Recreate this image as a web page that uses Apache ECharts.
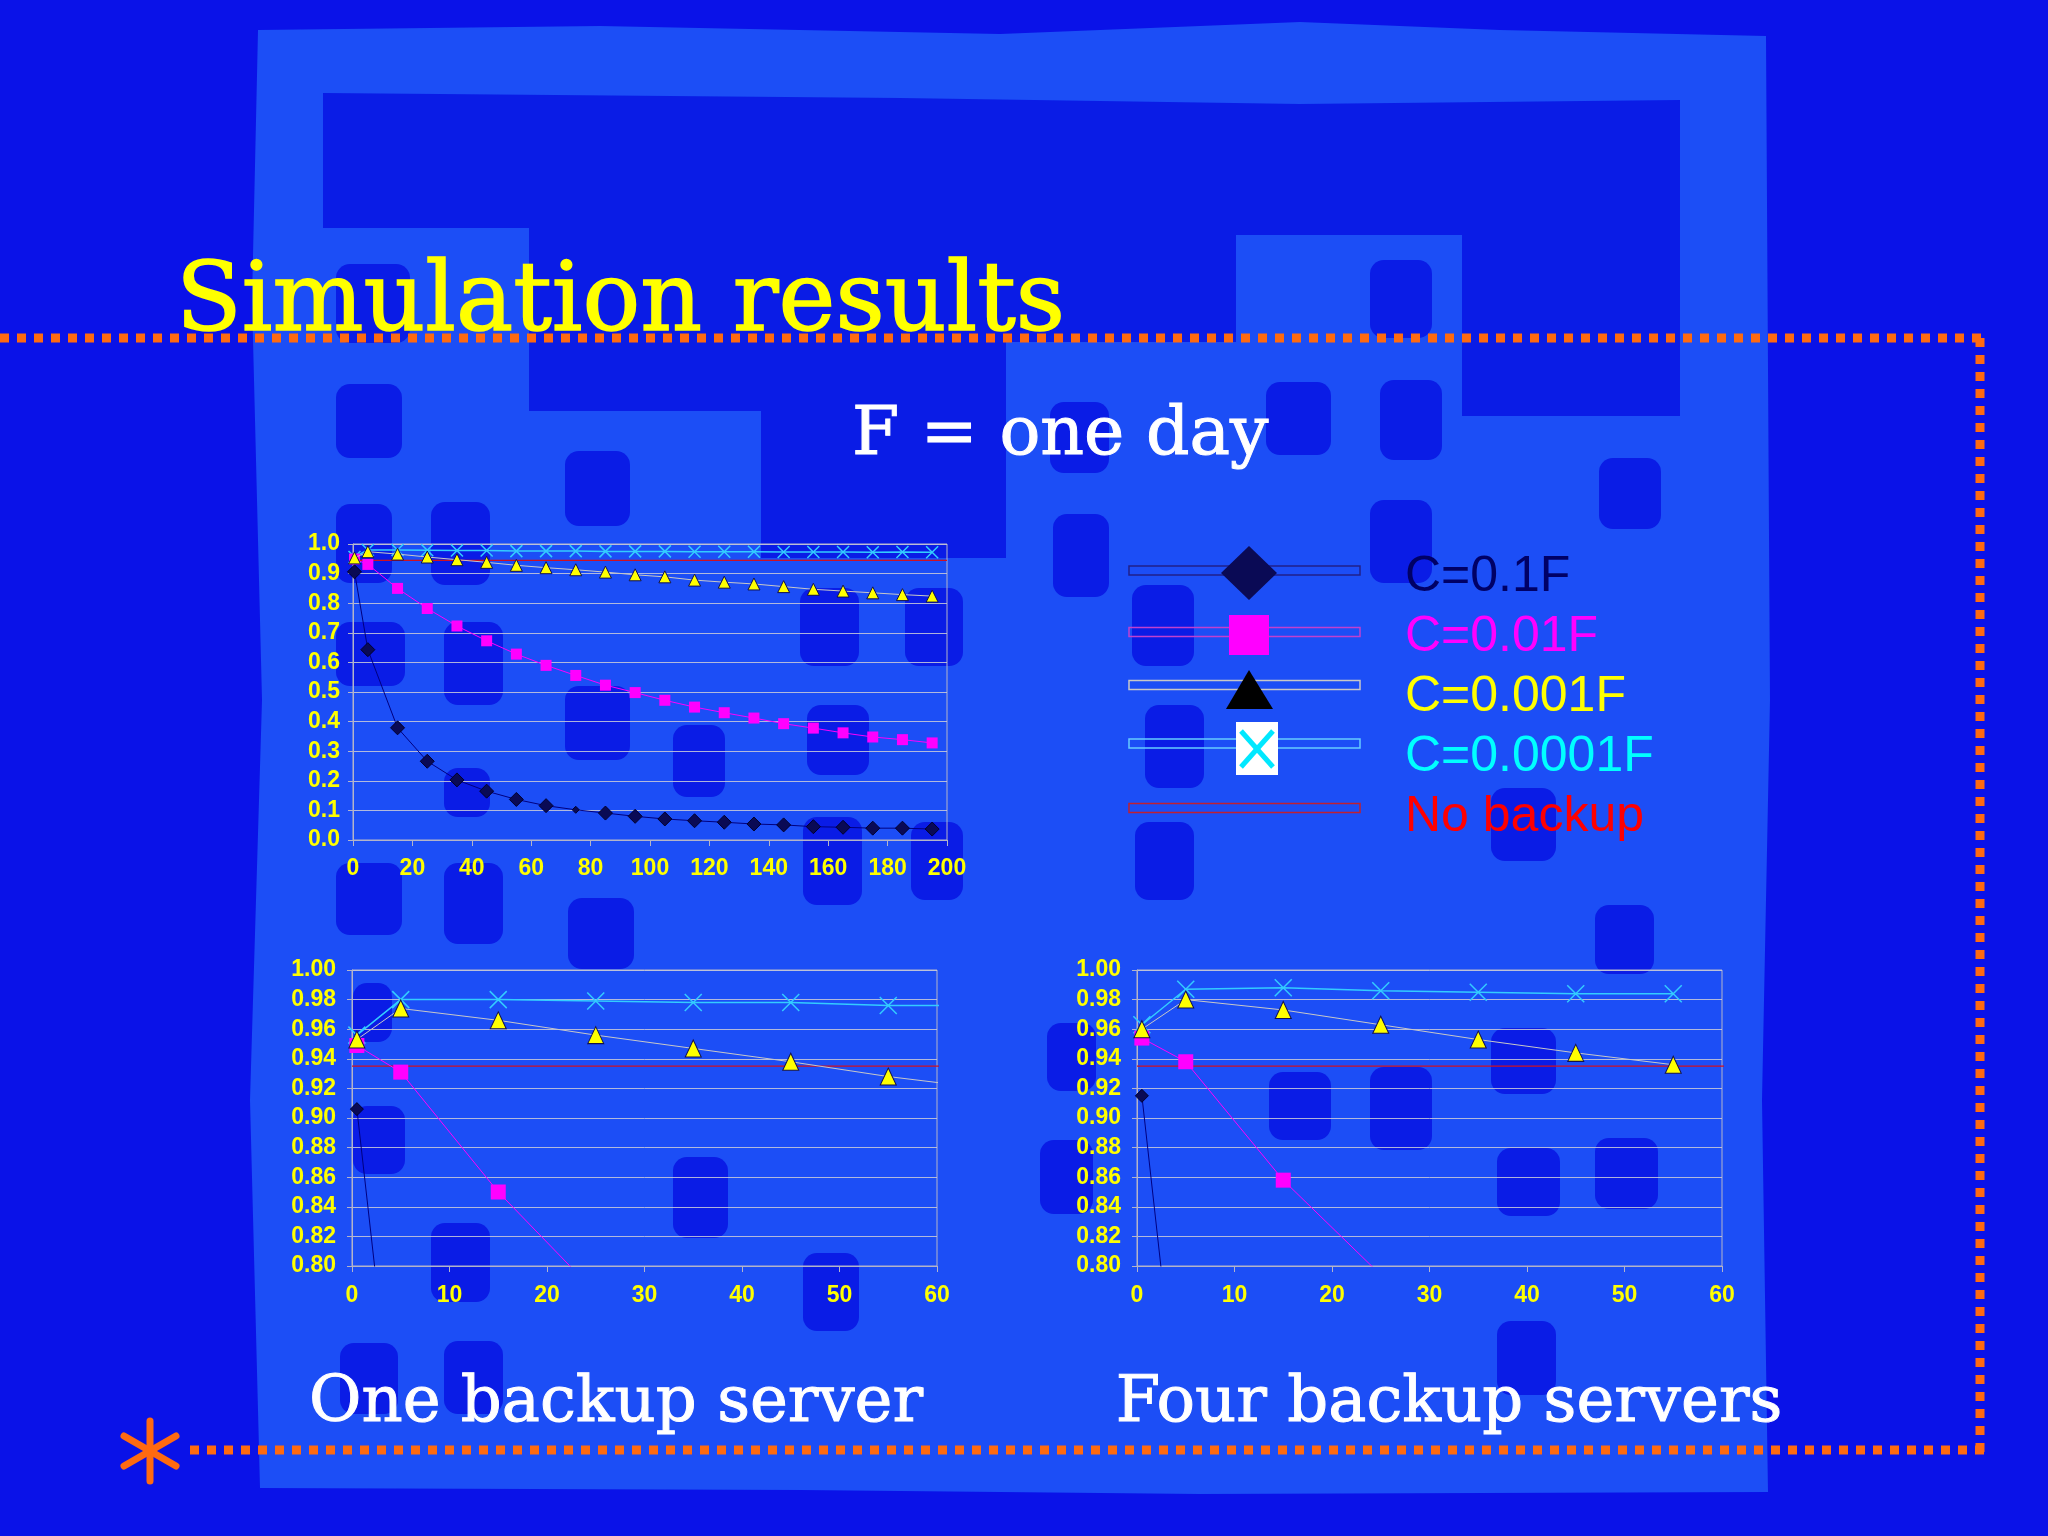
<!DOCTYPE html>
<html><head><meta charset="utf-8">
<script src="https://cdn.jsdelivr.net/npm/echarts@6/dist/echarts.min.js"></script>
<style>html,body{margin:0;padding:0;background:#0a12e8}#c{width:2048px;height:1536px}</style>
</head><body><div id="c"></div><script>
// ---------------- DATA ----------------
const seriesNames = ['C=0.1F', 'C=0.01F', 'C=0.001F', 'C=0.0001F', 'No backup'];
// One backup server (top chart and bottom-left chart)
const oneX      = [0.5, 5, 15, 25, 35, 45, 55, 65, 75, 85, 95, 105, 115, 125, 135, 145, 155, 165, 175, 185, 195];
const oneC1     = [0.906, 0.643, 0.379, 0.266, 0.203, 0.165, 0.137, 0.116, 0.102, 0.091, 0.080, 0.071, 0.065, 0.060, 0.054, 0.051, 0.045, 0.043, 0.040, 0.040, 0.037];
const oneC01    = [0.949, 0.931, 0.850, 0.782, 0.723, 0.673, 0.628, 0.590, 0.556, 0.523, 0.498, 0.472, 0.449, 0.430, 0.412, 0.393, 0.378, 0.362, 0.348, 0.339, 0.328];
const oneC001   = [0.953, 0.974, 0.966, 0.956, 0.947, 0.938, 0.928, 0.920, 0.913, 0.905, 0.896, 0.889, 0.878, 0.871, 0.865, 0.856, 0.847, 0.841, 0.835, 0.829, 0.824];
const oneC0001  = [0.956, 0.980, 0.980, 0.979, 0.978, 0.978, 0.976, 0.976, 0.976, 0.975, 0.975, 0.975, 0.974, 0.974, 0.974, 0.973, 0.973, 0.973, 0.972, 0.973, 0.972];
// Four backup servers (bottom-right chart)
const fourX     = [0.5, 5, 15, 25, 35, 45, 55];
const fourC1    = [0.915, 0.649];
const fourC01   = [0.954, 0.938, 0.858, 0.794];
const fourC001  = [0.960, 0.980, 0.973, 0.963, 0.953, 0.944, 0.936];
const fourC0001 = [0.963, 0.987, 0.988, 0.986, 0.985, 0.984, 0.984];
// No backup reference lines
const noBackupX      = [0, 200];
const noBackupTop    = [0.945, 0.945];
const noBackupBottom = [0.935, 0.935];
// Axis ranges / tick steps
const topXRange = [0, 200, 20];
const topYRange = [0, 1, 0.1];
const botXRange = [0, 60, 10];
const botYRange = [0.8, 1.0, 0.02];

// ---------------- STYLE ----------------
const legendColors = ['#000066', '#ff00ff', '#ffff00', '#00ffff', '#ff0000'];
const gridLineColor = 'rgba(205,205,215,0.85)';
const axisColor = '#b4b4c8';
const labelFont = {color: '#ffff00', fontWeight: 'bold', fontSize: 23, fontFamily: 'Liberation Sans, Arial, sans-serif'};
const crossPath = 'path://M0,0L10,10M10,0L0,10';

function pairs(xs, ys) { return ys.map((y, i) => [xs[i], y]); }

function mkSeries(name, gi, xs, ys, big) {
  const s = {type: 'line', name, xAxisIndex: gi, yAxisIndex: gi, clip: true, animation: false,
             data: pairs(xs, ys), showSymbol: true, symbolKeepAspect: false};
  if (name === 'C=0.1F') {
    s.symbol = 'diamond'; s.symbolSize = big ? 13 : 14; s.z = 4;
    s.itemStyle = {color: '#0a0a55', borderColor: '#000030', borderWidth: 1};
    s.lineStyle = {color: '#000080', width: 1};
    if (!big) s.data[8] = {value: s.data[8], symbolSize: 7};
  } else if (name === 'C=0.01F') {
    s.symbol = 'rect'; s.symbolSize = big ? 15 : 11; s.z = 5;
    s.itemStyle = {color: '#ff00ff', borderWidth: 0};
    s.lineStyle = {color: '#ff00ff', width: 1};
  } else if (name === 'C=0.001F') {
    s.symbol = 'triangle'; s.symbolSize = big ? [16, 17] : [12, 12]; s.z = 6;
    s.itemStyle = {color: '#ffff00', borderColor: '#101050', borderWidth: 1};
    s.lineStyle = {color: '#c8c8c8', width: 1};
  } else if (name === 'C=0.0001F') {
    s.symbol = crossPath; s.symbolSize = big ? 17 : 12; s.z = 3;
    s.itemStyle = {color: '#33ccff', borderColor: '#33ccff', borderWidth: 1.5};
    s.lineStyle = {color: '#33ccff', width: 1.5};
  } else {
    s.symbol = 'none'; s.showSymbol = false; s.z = 2;
    s.lineStyle = {color: '#d01020', width: 1.2};
    s.itemStyle = {color: '#ff0000'};
  }
  return s;
}

function mkX(gi, r, margin) {
  return {type: 'value', gridIndex: gi, min: r[0], max: r[1], interval: r[2],
    axisLine: {show: true, onZero: false, lineStyle: {color: axisColor, width: 1}},
    axisTick: {show: true, length: 6, lineStyle: {color: axisColor}},
    splitLine: {show: false},
    axisLabel: Object.assign({margin: margin}, labelFont)};
}
function mkY(gi, r, digits, margin) {
  return {type: 'value', gridIndex: gi, min: r[0], max: r[1], interval: r[2],
    axisLine: {show: true, onZero: false, lineStyle: {color: axisColor, width: 1}},
    axisTick: {show: true, length: 5, lineStyle: {color: axisColor}},
    splitLine: {show: true, lineStyle: {color: gridLineColor, width: 1}},
    axisLabel: Object.assign({margin: margin, formatter: v => v.toFixed(digits)}, labelFont)};
}

// ---------------- DECORATION (background shapes) ----------------
const bgOuter = '#0a12e8', bgLight = '#1c4ef6', bgDark = '#0a1ce6';
const darkPoly = [[323,93],[900,98],[1300,104],[1680,100],[1680,416],[1462,416],[1462,235],[1236,235],[1236,342],
                  [1006,342],[1006,558],[761,558],[761,411],[529,411],[529,228],[323,228]];
const lightPoly = [[258,30],[600,26],[1000,34],[1300,22],[1500,30],[1766,36],[1770,700],[1762,1100],[1768,1492],
                   [1200,1494],[800,1490],[260,1488],[250,1100],[262,700],[252,300]];
const blobs = [[336,384,402,458],[336,504,392,583],[431,502,490,585],[565,451,630,526],[336,622,405,686],
  [444,622,503,705],[565,686,630,760],[673,725,725,797],[800,588,859,666],[905,588,963,666],[807,705,869,775],
  [336,264,410,343],[336,863,402,935],[444,863,503,944],[568,898,634,969],[803,817,862,905],[911,822,963,900],
  [353,1106,405,1174],[431,1223,490,1302],[673,1157,728,1238],[803,1253,859,1331],[340,1343,398,1414],
  [444,1341,503,1414],[353,983,392,1042],[444,768,490,817],[1135,822,1194,900],[1595,905,1654,974],
  [1047,1023,1096,1091],[1040,1140,1093,1214],[1269,1072,1331,1140],[1370,1067,1432,1150],[1491,1028,1556,1094],
  [1497,1148,1560,1216],[1595,1138,1658,1209],[1497,1321,1556,1395],[1491,788,1556,861],[1266,382,1331,455],
  [1380,380,1442,460],[1370,260,1432,338],[1599,458,1661,529],[1050,402,1109,473],[1053,514,1109,597],
  [1370,500,1432,583],[1132,585,1194,666],[1145,705,1204,788]];

const graphics = [];
graphics.push({type: 'polygon', z: -20, shape: {points: lightPoly}, style: {fill: bgLight}});
graphics.push({type: 'polygon', z: -19, shape: {points: darkPoly}, style: {fill: bgDark}});
blobs.forEach(b => graphics.push({type: 'rect', z: -18, shape: {x: b[0], y: b[1], width: b[2]-b[0], height: b[3]-b[1], r: 14}, style: {fill: bgDark}}));

// orange dotted frame
const orange = '#ff6a10';
const dotStyle = {stroke: orange, lineWidth: 9, lineDash: [9, 8]};
graphics.push({type: 'line', z: 5, shape: {x1: 0, y1: 338, x2: 1984, y2: 338}, style: dotStyle});
graphics.push({type: 'line', z: 5, shape: {x1: 1980, y1: 338, x2: 1980, y2: 1454}, style: dotStyle});
graphics.push({type: 'line', z: 5, shape: {x1: 190, y1: 1450, x2: 1984, y2: 1450}, style: dotStyle});
// asterisk
const ast = {stroke: orange, lineWidth: 7, lineCap: 'round'};
graphics.push({type: 'line', z: 5, shape: {x1: 150, y1: 1421, x2: 150, y2: 1481}, style: ast});
graphics.push({type: 'line', z: 5, shape: {x1: 124, y1: 1436, x2: 176, y2: 1466}, style: ast});
graphics.push({type: 'line', z: 5, shape: {x1: 124, y1: 1466, x2: 176, y2: 1436}, style: ast});

// texts
function txt(t, x, y, size, color, align, sw) {
  return {type: 'text', z: 10, style: {text: t, x: x, y: y, fill: color, stroke: color, lineWidth: sw,
    font: size + 'px "DejaVu Serif", serif',
    textAlign: align, align: align, textVerticalAlign: 'middle', verticalAlign: 'middle'}};
}
graphics.push(txt('Simulation results', 176, 305, 96, '#ffff00', 'left', 1.5));
graphics.push(txt('F = one day', 852, 436, 68, '#ffffff', 'left', 1.0));
graphics.push(txt('One backup server', 616, 1404, 64, '#ffffff', 'center', 1.0));
graphics.push(txt('Four backup servers', 1449, 1404, 64, '#ffffff', 'center', 1.0));

// legend sample boxes and markers
const boxRows = [[570.5, '#20208a'], [632, '#c040d0'], [685, '#c8c8c8'], [743.5, '#66ccff'], [808, '#c02030']];
boxRows.forEach(r => graphics.push({type: 'rect', z: 6, shape: {x: 1129, y: r[0]-4.5, width: 231, height: 9},
  style: {fill: 'none', stroke: r[1], lineWidth: 1.5}}));
graphics.push({type: 'polygon', z: 7, shape: {points: [[1249,546],[1277,573],[1249,600],[1221,573]]}, style: {fill: '#0a0a55'}});
graphics.push({type: 'rect', z: 7, shape: {x: 1229, y: 615, width: 40, height: 40}, style: {fill: '#ff00ff'}});
graphics.push({type: 'polygon', z: 7, shape: {points: [[1249,670],[1273,709],[1226,709]]}, style: {fill: '#000000'}});
graphics.push({type: 'rect', z: 7, shape: {x: 1236, y: 722, width: 42, height: 53}, style: {fill: '#ffffff'}});
graphics.push({type: 'line', z: 8, shape: {x1: 1241, y1: 731, x2: 1273, y2: 767}, style: {stroke: '#00e8ff', lineWidth: 5}});
graphics.push({type: 'line', z: 8, shape: {x1: 1273, y1: 731, x2: 1241, y2: 767}, style: {stroke: '#00e8ff', lineWidth: 5}});

// ---------------- OPTION ----------------
const series = [];
[[oneC1, 'C=0.1F'], [oneC01, 'C=0.01F'], [oneC001, 'C=0.001F'], [oneC0001, 'C=0.0001F']].forEach(p => {
  series.push(mkSeries(p[1], 0, oneX, p[0], false));
  series.push(mkSeries(p[1], 1, oneX, p[0], true));
});
series.push(mkSeries('No backup', 0, noBackupX, noBackupTop, false));
series.push(mkSeries('No backup', 1, noBackupX, noBackupBottom, true));
series.push(mkSeries('C=0.1F', 2, fourX, fourC1, true));
series.push(mkSeries('C=0.01F', 2, fourX, fourC01, true));
series.push(mkSeries('C=0.001F', 2, fourX, fourC001, true));
series.push(mkSeries('C=0.0001F', 2, fourX, fourC0001, true));
series.push(mkSeries('No backup', 2, noBackupX, noBackupBottom, true));

const gridCommon = {show: true, borderColor: axisColor, borderWidth: 1, backgroundColor: 'transparent', containLabel: false};
const option = {
  backgroundColor: bgOuter,
  animation: false,
  grid: [
    Object.assign({left: 353, top: 544, width: 594, height: 296}, gridCommon),
    Object.assign({left: 352, top: 970, width: 585, height: 296}, gridCommon),
    Object.assign({left: 1137, top: 970, width: 585, height: 296}, gridCommon)
  ],
  xAxis: [mkX(0, topXRange, 17), mkX(1, botXRange, 18), mkX(2, botXRange, 18)],
  yAxis: [mkY(0, topYRange, 1, 13), mkY(1, botYRange, 2, 16), mkY(2, botYRange, 2, 16)],
  legend: {
    orient: 'vertical', left: 1390, top: 552, itemWidth: 10, itemHeight: 50, itemGap: 10, padding: 0,
    icon: 'none', selectedMode: false,
    textStyle: {fontFamily: 'Liberation Sans, Arial, sans-serif', fontSize: 50, lineHeight: 50},
    data: seriesNames.map((n, i) => ({name: n, icon: 'none', textStyle: {color: legendColors[i]}}))
  },
  graphic: {elements: graphics},
  series: series
};
const chart = echarts.init(document.getElementById('c'), null, {renderer: 'canvas', width: 2048, height: 1536});
chart.setOption(option);
</script></body></html>
